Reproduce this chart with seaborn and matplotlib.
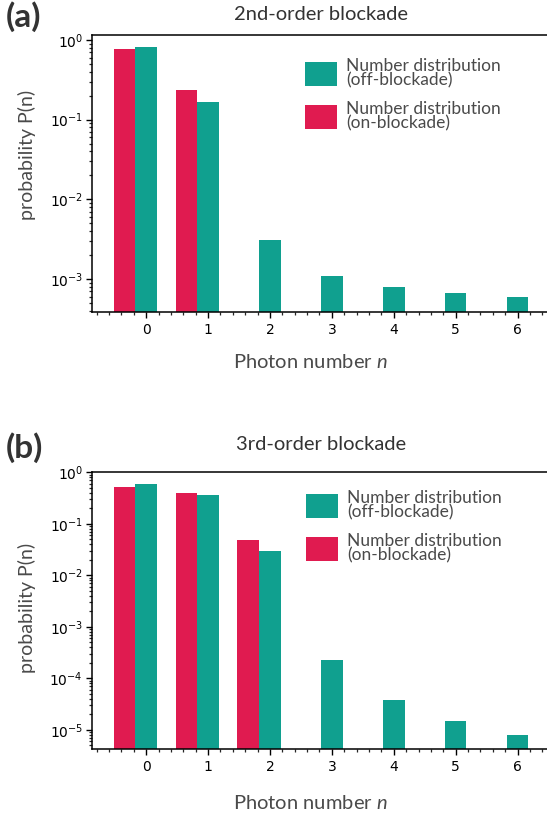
import numpy as np
import pandas as pd
import matplotlib
matplotlib.use("Agg")
import matplotlib.pyplot as plt
import seaborn as sns
from matplotlib.ticker import MultipleLocator, LogLocator, NullFormatter
from matplotlib.patches import Patch

# ---------------- data ----------------
photon_n_a = [0, 1, 2, 3, 4, 5, 6]
off_blockade_a = [0.82, 0.168, 3.06e-3, 1.10e-3, 7.9e-4, 6.7e-4, 6.0e-4]
on_n_a = [0, 1]
on_blockade_a = [0.76, 0.236]

photon_n_b = [0, 1, 2, 3, 4, 5, 6]
off_blockade_b = [0.58, 0.37, 0.0299, 2.27e-4, 3.8e-5, 1.48e-5, 7.9e-6]
on_n_b = [0, 1, 2]
on_blockade_b = [0.53, 0.405, 0.049]

titles = ["2nd-order blockade", "3rd-order blockade"]
panel_tags = ["(a)", "(b)"]
xlabel = "Photon number $n$"
ylabel = "probability P(n)"
legend_labels = ["Number distribution\n(off-blockade)", "Number distribution\n(on-blockade)"]

TEAL = "#10a08f"
RED = "#e01b50"
TXT = "#4a4a4a"
BAR_W = 0.35

sns.set_style("ticks")
plt.rcParams["font.family"] = ["DejaVu Sans"]
plt.rcParams["mathtext.fontset"] = "custom"
plt.rcParams["mathtext.it"] = "Lato:italic"
plt.rcParams["mathtext.rm"] = "Lato"
TEXT_FONT = ["Lato", "DejaVu Sans"]

W, H = 547, 818
fig = plt.figure(figsize=(W / 100, H / 100), dpi=100)

def px_axes(left, top, right, bottom):
    return fig.add_axes([left / W, 1 - bottom / H, (right - left) / W, (bottom - top) / H])

ax_a = px_axes(92, 35, 92 + 7.475 * 61.9, 311.7)
ax_b = px_axes(92, 472.3, 92 + 7.475 * 61.9, 749.3)

panels = [
    (ax_a, photon_n_a, off_blockade_a, on_n_a, on_blockade_a, (3.9e-4, 1.155)),
    (ax_b, photon_n_b, off_blockade_b, on_n_b, on_blockade_b, (4.2e-6, 1.0)),
]

for ax, n_off, p_off, n_on, p_on, ylim in panels:
    df_off = pd.DataFrame({"n": np.array(n_off, dtype=float), "p": p_off})
    df_on = pd.DataFrame({"n": np.array(n_on, dtype=float) - BAR_W, "p": p_on})
    sns.barplot(data=df_on, x="n", y="p", native_scale=True, width=BAR_W,
                color=RED, saturation=1, errorbar=None, ax=ax, log_scale=(False, True),
                linewidth=0)
    sns.barplot(data=df_off, x="n", y="p", native_scale=True, width=BAR_W,
                color=TEAL, saturation=1, errorbar=None, ax=ax, log_scale=(False, True),
                linewidth=0)
    ax.set_yscale("log")
    ax.set_ylim(*ylim)
    ax.set_xlim(-0.875, 6.6)
    ax.set_xticks(range(7))
    ax.set_xticklabels([str(i) for i in range(7)])
    ax.xaxis.set_minor_locator(MultipleLocator(0.2))
    ax.yaxis.set_major_locator(LogLocator(base=10, numticks=20))
    ax.yaxis.set_minor_locator(LogLocator(base=10, subs=np.arange(2, 10), numticks=20))
    ax.yaxis.set_minor_formatter(NullFormatter())
    ax.set_xlabel("")
    ax.set_ylabel("")
    for s in ["left", "bottom", "top"]:
        ax.spines[s].set_visible(True)
        ax.spines[s].set_linewidth(1.1)
        ax.spines[s].set_color("black")
    ax.spines["right"].set_visible(False)
    ax.tick_params(axis="both", which="major", direction="out", length=4.5, width=1.0,
                   labelsize=10, colors="black")
    ax.tick_params(axis="both", which="minor", direction="out", length=2.5, width=0.9)
    ax.tick_params(axis="x", which="both", top=False)
    ax.tick_params(axis="y", which="major", pad=2)

# legends
handles = [Patch(facecolor=TEAL, edgecolor="none"), Patch(facecolor=RED, edgecolor="none")]
for ax, (lx, ly) in [(ax_a, (305, 58)), (ax_b, (306, 490))]:
    leg = ax.legend(handles, legend_labels, loc="upper left",
                    bbox_to_anchor=(lx / W, 1 - ly / H), bbox_transform=fig.transFigure,
                    frameon=False, borderpad=0, borderaxespad=0,
                    handlelength=1.84, handleheight=1.78, handletextpad=0.52,
                    labelspacing=0.7, prop={"family": TEXT_FONT, "size": 12.5})
    for t in leg.get_texts():
        t.set_color(TXT)
        t.set_linespacing(0.9)

# titles, tags, axis labels
for title, tag, ty, xly, yly in [(titles[0], panel_tags[0], 14, 362, 155),
                                  (titles[1], panel_tags[1], 445, 803, 608)]:
    fig.text(321 / W, 1 - ty / H, title, ha="center", va="center",
             family=TEXT_FONT, fontsize=14.5, color="#333333")
    fig.text(6 / W, 1 - (ty + 3) / H, tag, ha="left", va="center",
             family=TEXT_FONT, fontsize=24, fontweight="bold", color="#333333")
    fig.text(310 / W, 1 - xly / H, xlabel, ha="center", va="center",
             family=TEXT_FONT, fontsize=14.5, color=TXT)
    fig.text(27 / W, 1 - yly / H, ylabel, ha="center", va="center", rotation=90,
             family=TEXT_FONT, fontsize=14, color=TXT)

fig.savefig("out.png", dpi=100)
